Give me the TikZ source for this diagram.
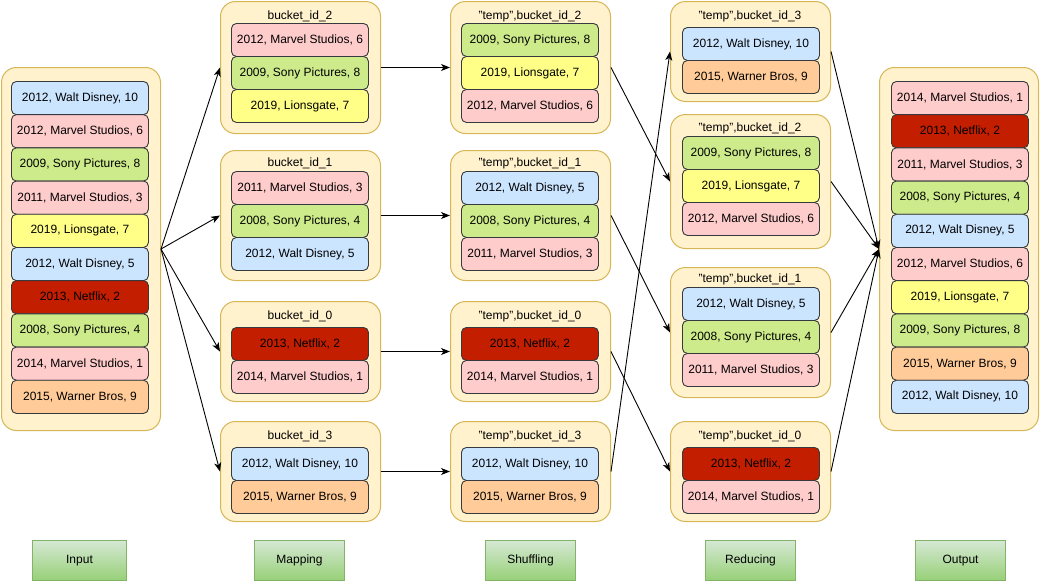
\documentclass[tikz,border=0pt]{standalone}
\usepackage{fontspec}
\setmainfont{Liberation Sans}
\usetikzlibrary{arrows.meta,shadings}
\definecolor{contfill}{HTML}{FFF2CC}
\definecolor{contdraw}{HTML}{D6B656}
\definecolor{cblue}{HTML}{CCE5FF}
\definecolor{cpink}{HTML}{FFCCCC}
\definecolor{cgreen}{HTML}{CDEB8B}
\definecolor{cyellow}{HTML}{FFFF88}
\definecolor{corange}{HTML}{FFCC99}
\definecolor{cnetflix}{HTML}{C41E00}
\definecolor{celldraw}{HTML}{36393D}
\definecolor{gtop}{HTML}{D5E8D4}
\definecolor{gbot}{HTML}{97D077}
\definecolor{gdraw}{HTML}{82B366}
\newcommand{\cell}[5]{\node[cellbox,fill=#2] (#1) at (#3,#4) {#5};}
\tikzset{
  cont/.style={draw=contdraw,fill=contfill,line width=1pt,rounded corners=15pt,anchor=north west,inner sep=0pt},
  cellbox/.style={draw=celldraw,line width=0.9pt,rounded corners=5pt,anchor=north west,inner sep=0pt,font=\fontsize{12pt}{14pt}\selectfont},
  ttl/.style={font=\fontsize{12pt}{14pt}\selectfont,inner sep=0pt},
  phase/.style={draw=gdraw,line width=1pt,top color=gtop,bottom color=gbot,anchor=north west,inner sep=0pt,minimum width=90pt,minimum height=40pt,font=\fontsize{12pt}{14pt}\selectfont},
  arr/.style={-{Stealth[length=9pt,width=7pt,inset=2.5pt]},line width=0.9pt,black}
}
\begin{document}
\begin{tikzpicture}[x=1pt,y=-1pt]
\useasboundingbox (0,0) rectangle (1040,582);
% ---------- Input ----------
\node[cont,minimum width=159pt,minimum height=363pt] (in) at (1,67) {};
\tikzset{cellbox/.append style={minimum width=137pt,minimum height=33.2pt}}
\cell{i1}{cblue}{11}{81}{2012, Walt Disney, 10}
\cell{i2}{cpink}{11}{114.2}{2012, Marvel Studios, 6}
\cell{i3}{cgreen}{11}{147.4}{2009, Sony Pictures, 8}
\cell{i4}{cpink}{11}{180.6}{2011, Marvel Studios, 3}
\cell{i5}{cyellow}{11}{213.8}{2019, Lionsgate, 7}
\cell{i6}{cblue}{11}{247}{2012, Walt Disney, 5}
\cell{i7}{cnetflix}{11}{280.2}{2013, Netflix, 2}
\cell{i8}{cgreen}{11}{313.4}{2008, Sony Pictures, 4}
\cell{i9}{cpink}{11}{346.6}{2014, Marvel Studios, 1}
\cell{i10}{corange}{11}{379.8}{2015, Warner Bros, 9}
% ---------- Output ----------
\node[cont,minimum width=159pt,minimum height=363pt] (out) at (879,67) {};
\cell{o1}{cpink}{891}{81}{2014, Marvel Studios, 1}
\cell{o2}{cnetflix}{891}{114.2}{2013, Netflix, 2}
\cell{o3}{cpink}{891}{147.4}{2011, Marvel Studios, 3}
\cell{o4}{cgreen}{891}{180.6}{2008, Sony Pictures, 4}
\cell{o5}{cblue}{891}{213.8}{2012, Walt Disney, 5}
\cell{o6}{cpink}{891}{247}{2012, Marvel Studios, 6}
\cell{o7}{cyellow}{891}{280.2}{2019, Lionsgate, 7}
\cell{o8}{cgreen}{891}{313.4}{2009, Sony Pictures, 8}
\cell{o9}{corange}{891}{346.6}{2015, Warner Bros, 9}
\cell{o10}{cblue}{891}{379.8}{2012, Walt Disney, 10}
\tikzset{cellbox/.append style={minimum height=33pt}}
% ---------- Mapping ----------
\node[cont,minimum width=160pt,minimum height=132pt] (m2) at (220,1) {};
\node[ttl] (m2t) at (300,16) {bucket\_id\_2};
\cell{m2a}{cpink}{231}{23}{2012, Marvel Studios, 6}
\cell{m2b}{cgreen}{231}{56}{2009, Sony Pictures, 8}
\cell{m2c}{cyellow}{231}{89}{2019, Lionsgate, 7}
\node[cont,minimum width=160pt,minimum height=130pt] (m1) at (220,150) {};
\node[ttl] (m1t) at (300,163) {bucket\_id\_1};
\cell{m1a}{cpink}{231}{171}{2011, Marvel Studios, 3}
\cell{m1b}{cgreen}{231}{204}{2008, Sony Pictures, 4}
\cell{m1c}{cblue}{231}{237}{2012, Walt Disney, 5}
\node[cont,minimum width=160pt,minimum height=100pt] (m0) at (220,301) {};
\node[ttl] (m0t) at (300,316) {bucket\_id\_0};
\cell{m0a}{cnetflix}{231}{327}{2013, Netflix, 2}
\cell{m0b}{cpink}{231}{360}{2014, Marvel Studios, 1}
\node[cont,minimum width=160pt,minimum height=100pt] (m3) at (220,421) {};
\node[ttl] (m3t) at (300,436) {bucket\_id\_3};
\cell{m3a}{cblue}{231}{447}{2012, Walt Disney, 10}
\cell{m3b}{corange}{231}{480}{2015, Warner Bros, 9}
% ---------- Shuffling ----------
\node[cont,minimum width=160pt,minimum height=132pt] (s2) at (450,1) {};
\node[ttl] (s2t) at (530,16) {"temp",bucket\_id\_2};
\cell{s2a}{cgreen}{461}{23}{2009, Sony Pictures, 8}
\cell{s2b}{cyellow}{461}{56}{2019, Lionsgate, 7}
\cell{s2c}{cpink}{461}{89}{2012, Marvel Studios, 6}
\node[cont,minimum width=160pt,minimum height=130pt] (s1) at (450,150) {};
\node[ttl] (s1t) at (530,163) {"temp",bucket\_id\_1};
\cell{s1a}{cblue}{461}{171}{2012, Walt Disney, 5}
\cell{s1b}{cgreen}{461}{204}{2008, Sony Pictures, 4}
\cell{s1c}{cpink}{461}{237}{2011, Marvel Studios, 3}
\node[cont,minimum width=160pt,minimum height=100pt] (s0) at (450,301) {};
\node[ttl] (s0t) at (530,316) {"temp",bucket\_id\_0};
\cell{s0a}{cnetflix}{461}{327}{2013, Netflix, 2}
\cell{s0b}{cpink}{461}{360}{2014, Marvel Studios, 1}
\node[cont,minimum width=160pt,minimum height=100pt] (s3) at (450,421) {};
\node[ttl] (s3t) at (530,436) {"temp",bucket\_id\_3};
\cell{s3a}{cblue}{461}{447}{2012, Walt Disney, 10}
\cell{s3b}{corange}{461}{480}{2015, Warner Bros, 9}
% ---------- Reducing ----------
\node[cont,minimum width=160pt,minimum height=100pt] (r3) at (670,1) {};
\node[ttl] (r3t) at (750,16) {"temp",bucket\_id\_3};
\cell{r3a}{cblue}{682}{27}{2012, Walt Disney, 10}
\cell{r3b}{corange}{682}{60}{2015, Warner Bros, 9}
\node[cont,minimum width=160pt,minimum height=134pt] (r2) at (670,114) {};
\node[ttl] (r2t) at (750,128) {"temp",bucket\_id\_2};
\cell{r2a}{cgreen}{682}{136}{2009, Sony Pictures, 8}
\cell{r2b}{cyellow}{682}{169}{2019, Lionsgate, 7}
\cell{r2c}{cpink}{682}{202}{2012, Marvel Studios, 6}
\node[cont,minimum width=160pt,minimum height=130pt] (r1) at (670,267) {};
\node[ttl] (r1t) at (750,279) {"temp",bucket\_id\_1};
\cell{r1a}{cblue}{682}{287}{2012, Walt Disney, 5}
\cell{r1b}{cgreen}{682}{320}{2008, Sony Pictures, 4}
\cell{r1c}{cpink}{682}{353}{2011, Marvel Studios, 3}
\node[cont,minimum width=160pt,minimum height=100pt] (r0) at (670,421) {};
\node[ttl] (r0t) at (750,436) {"temp",bucket\_id\_0};
\cell{r0a}{cnetflix}{682}{447}{2013, Netflix, 2}
\cell{r0b}{cpink}{682}{480}{2014, Marvel Studios, 1}
% ---------- Phase labels ----------
\node[phase,minimum width=94pt] (pin) at (32,540) {Input};
\node[phase] (pmap) at (254,540) {Mapping};
\node[phase] (pshuf) at (485,540) {Shuffling};
\node[phase] (pred) at (705,540) {Reducing};
\node[phase] (pout) at (915,540) {Output};
% ---------- Connectors ----------
\draw[arr] (in.east) -- (m2.west);
\draw[arr] (in.east) -- (m1.west);
\draw[arr] (in.east) -- (m0.west);
\draw[arr] (in.east) -- (m3.west);
\draw[arr] (m2.east) -- (s2.west);
\draw[arr] (m1.east) -- (s1.west);
\draw[arr] (m0.east) -- (s0.west);
\draw[arr] (m3.east) -- (s3.west);
\draw[arr] (s2.east) -- (r2.west);
\draw[arr] (s1.east) -- (r1.west);
\draw[arr] (s0.east) -- (r0.west);
\draw[arr] (s3.east) -- (r3.west);
\draw[arr] (r3.east) -- (out.west);
\draw[arr] (r2.east) -- (out.west);
\draw[arr] (r1.east) -- (out.west);
\draw[arr] (r0.east) -- (out.west);
\end{tikzpicture}
\end{document}
